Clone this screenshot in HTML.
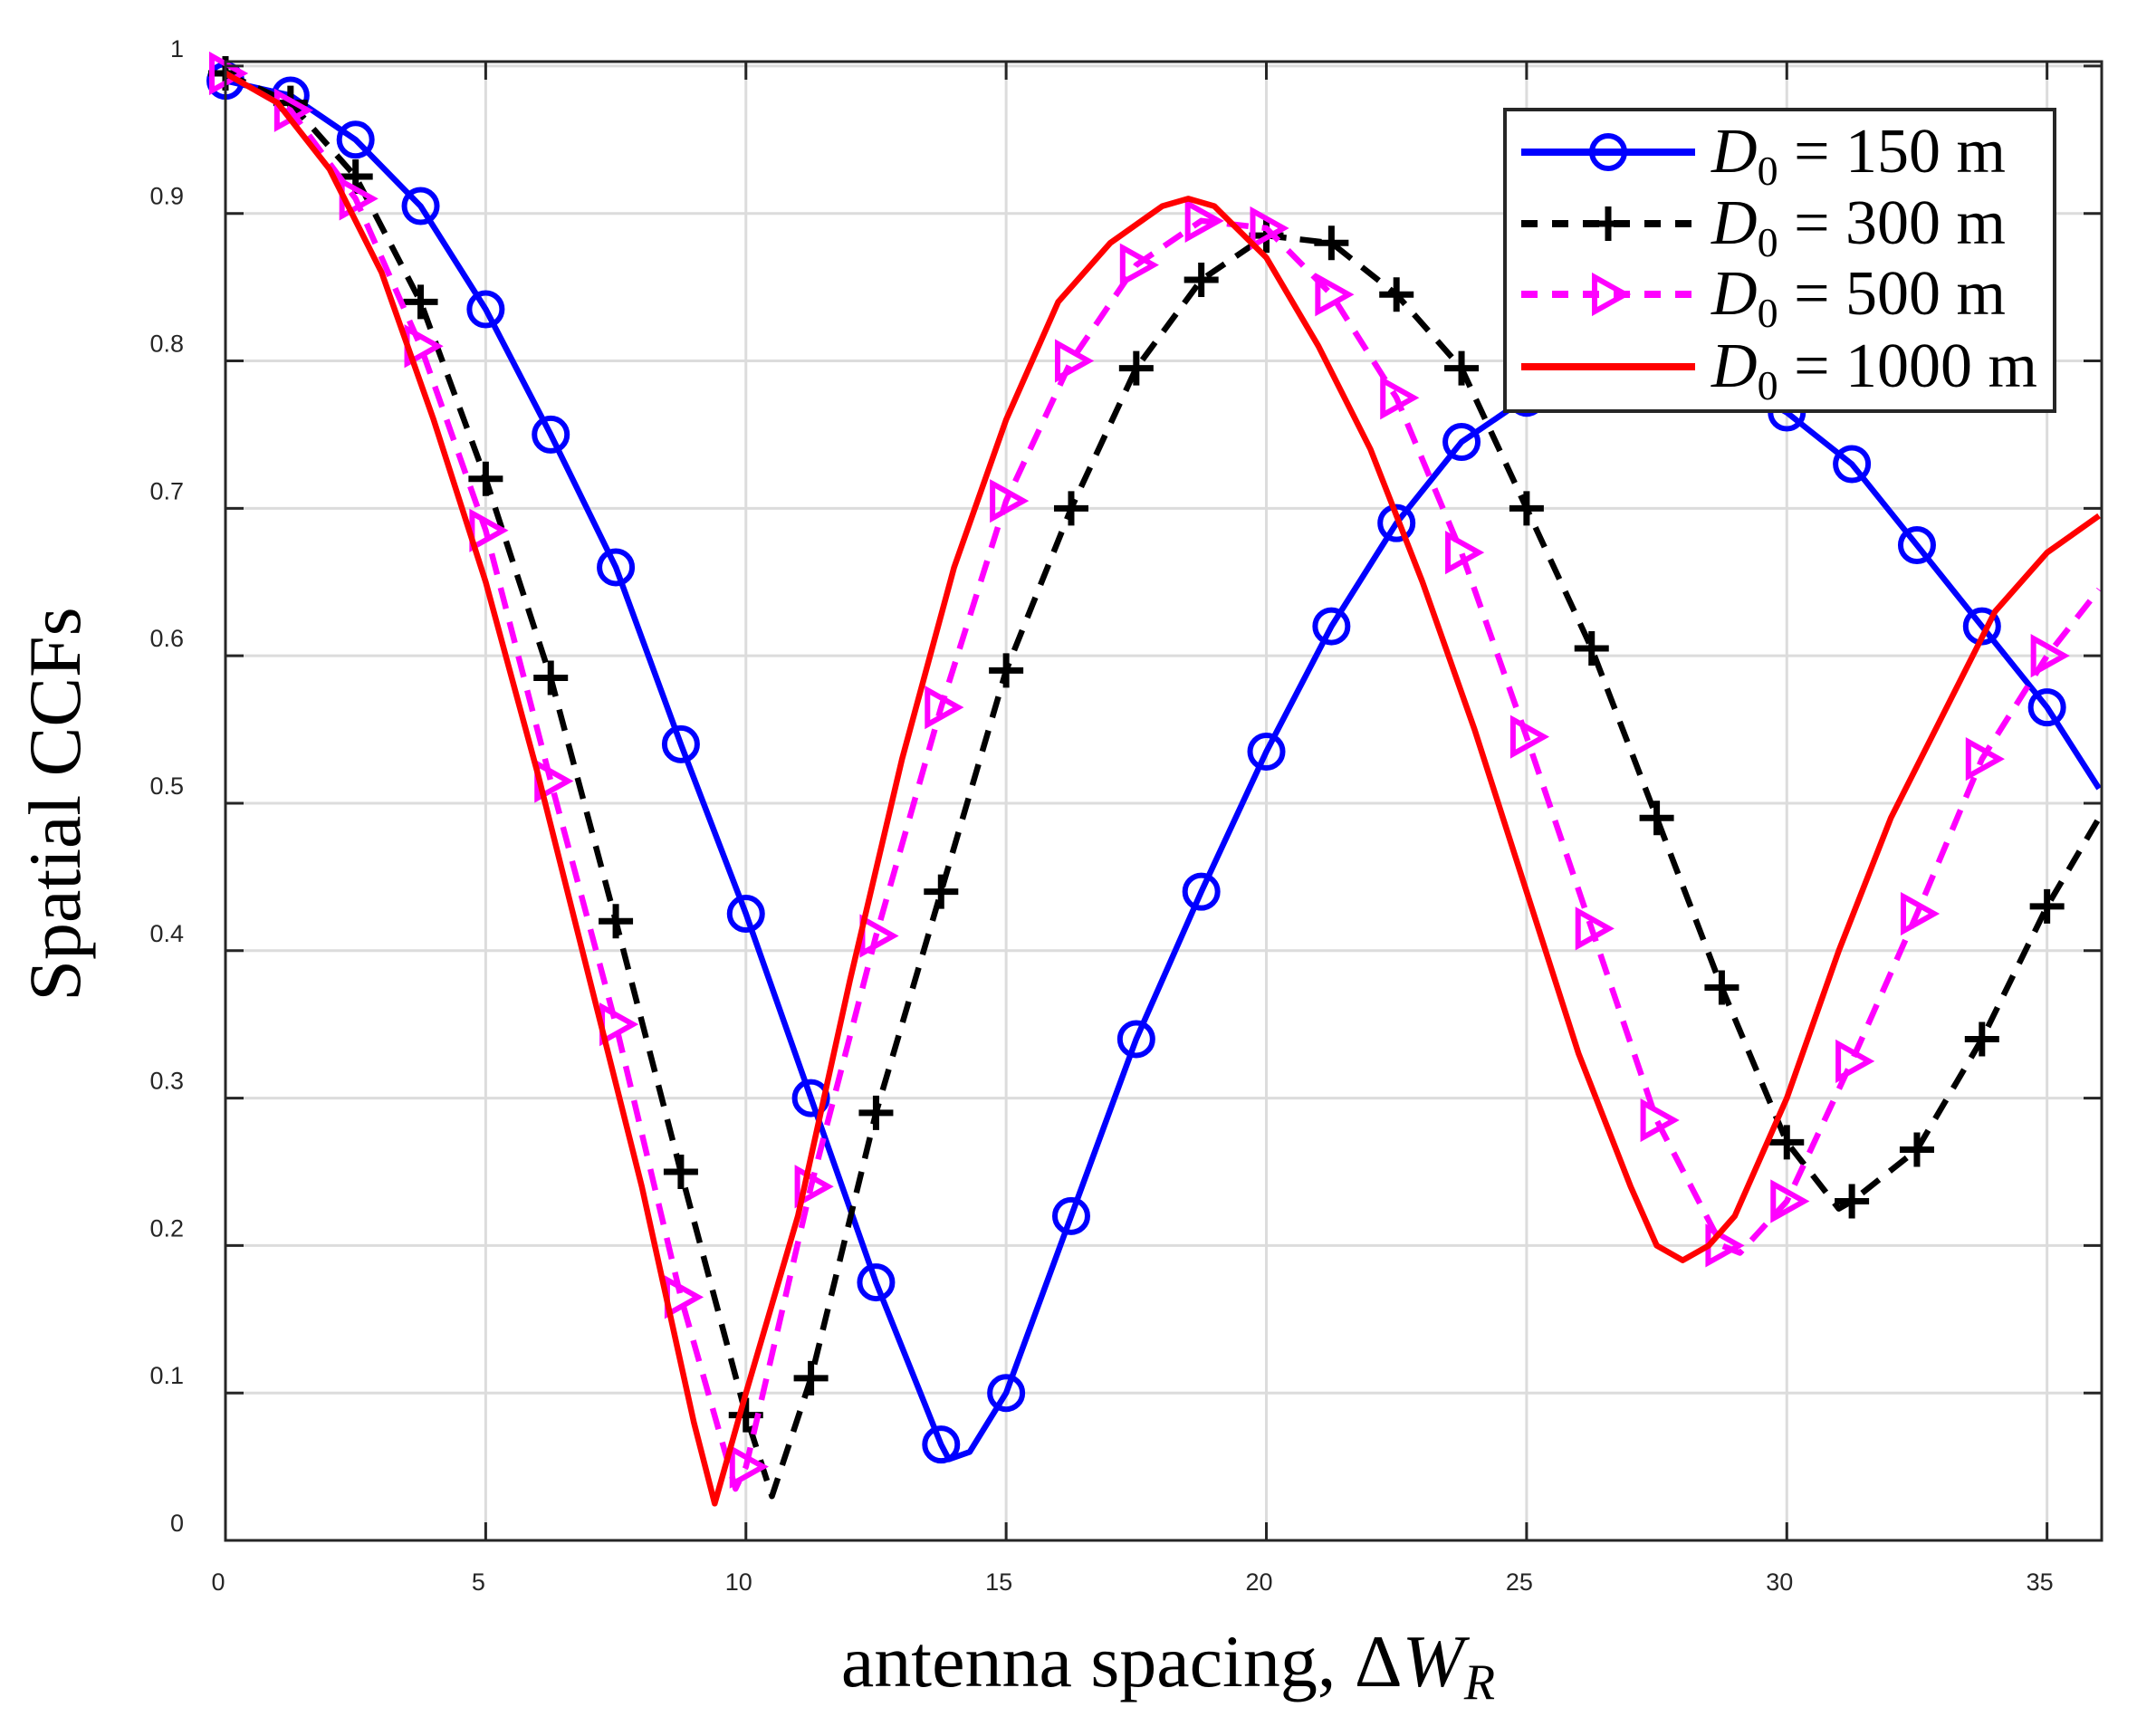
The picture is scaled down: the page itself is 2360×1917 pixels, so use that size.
<!DOCTYPE html>
<html><head><meta charset="utf-8"><style>
html,body{margin:0;padding:0;background:#fff;}
svg{display:block;}
</style></head><body>
<svg id="chart" width="2360" height="1917" xmlns="http://www.w3.org/2000/svg">
<rect width="2360" height="1917" fill="#fff"/>
<g id="grid"></g>
<g id="series"></g>
<g id="axes"></g>
<text x="1290" y="1862" font-family="Liberation Serif, serif" font-size="82" text-anchor="middle">antenna spacing, Δ<tspan font-style="italic">W</tspan><tspan font-style="italic" font-size="56" dy="14">R</tspan></text>
<text transform="translate(88,888) rotate(-90)" font-family="Liberation Serif, serif" font-size="82" text-anchor="middle">Spatial CCFs</text>
<g id="legend"></g>
</svg>
<script>
const xTicks=[0,5,10,15,20,25,30,35];
const yTicks=[0,0.1,0.2,0.3,0.4,0.5,0.6,0.7,0.8,0.9,1];
const yTickLabels=['0','0.1','0.2','0.3','0.4','0.5','0.6','0.7','0.8','0.9','1'];
const x150=[0,1.25,2.5,3.75,5,6.25,7.5,8.75,10,11.25,12.5,13.75,13.9,14.3,15,16.25,17.5,18.75,20,21.25,22.5,23.75,25,26,27,28,29,30,31.25,32.5,33.75,35,36];
const y150=[0.99,0.98,0.95,0.905,0.835,0.75,0.66,0.54,0.425,0.3,0.175,0.065,0.055,0.06,0.1,0.22,0.34,0.44,0.535,0.62,0.69,0.745,0.775,0.79,0.8,0.795,0.785,0.765,0.73,0.675,0.62,0.565,0.51];
const x300=[0,1.25,2.5,3.75,5,6.25,7.5,8.75,10,10.5,11.25,12.5,13.75,15,16.25,17.5,18.75,20,21.25,22.5,23.75,25,26.25,27.5,28.75,30,31,31.25,32.5,33.75,35,36];
const y300=[0.995,0.975,0.925,0.84,0.72,0.585,0.42,0.25,0.085,0.03,0.11,0.29,0.44,0.59,0.7,0.795,0.855,0.885,0.88,0.845,0.795,0.7,0.605,0.49,0.375,0.27,0.225,0.23,0.265,0.34,0.43,0.49];
const x500=[0,1.25,2.5,3.75,5,6.25,7.5,8.75,9.8,10,11.25,12.5,13.75,15,16.25,17.5,18.75,20,21.25,22.5,23.75,25,26.25,27.5,28.75,29.1,30,31.25,32.5,33.75,35,36];
const y500=[0.995,0.97,0.91,0.81,0.685,0.515,0.35,0.165,0.035,0.05,0.24,0.41,0.565,0.705,0.8,0.865,0.895,0.89,0.845,0.775,0.67,0.545,0.415,0.285,0.2,0.195,0.23,0.325,0.425,0.53,0.6,0.645];
const x1000=[0,1,2,3,4,5,6,7,8,9,9.4,10,11,12,13,14,15,16,17,18,18.5,19,20,21,22,23,24,25,26,27,27.5,28,28.5,29,30,31,32,33,34,35,36];
const y1000=[0.995,0.975,0.93,0.86,0.76,0.65,0.52,0.38,0.24,0.08,0.025,0.1,0.22,0.38,0.53,0.66,0.76,0.84,0.88,0.905,0.91,0.905,0.87,0.81,0.74,0.65,0.55,0.44,0.33,0.24,0.2,0.19,0.2,0.22,0.3,0.4,0.49,0.56,0.63,0.67,0.695];

const L=249,R=2321,T=68,B=1701,XMAX=36.05,YMAX=1.003;
const sx=v=>L+v/XMAX*(R-L);
const sy=v=>B-v/YMAX*(B-T);
const NS='http://www.w3.org/2000/svg';
function mk(tag,attrs,parent){const e=document.createElementNS(NS,tag);for(const k in attrs)e.setAttribute(k,attrs[k]);parent.appendChild(e);return e;}
const grid=document.getElementById('grid'),axes=document.getElementById('axes'),ser=document.getElementById('series'),leg=document.getElementById('legend');
xTicks.forEach(t=>{
 const g=mk('line',{x1:sx(t),x2:sx(t),y1:T,y2:B,stroke:'#dcdcdc','stroke-width':3},grid);
 
 
 const tk=mk('line',{x1:sx(t),x2:sx(t),y1:B,y2:B-20,stroke:'#262626','stroke-width':3},axes);
 
 
 const tk2=mk('line',{x1:sx(t),x2:sx(t),y1:T,y2:T+20,stroke:'#262626','stroke-width':3},axes);
 
 
 const lb=mk('text',{x:sx(t)-8,y:B+55,'font-family':'Liberation Sans, sans-serif','font-size':27,'text-anchor':'middle',fill:'#262626'},axes);
 lb.textContent=String(t);
 
 
});
yTicks.forEach((t,i)=>{
 const g=mk('line',{x1:L,x2:R,y1:sy(t),y2:sy(t),stroke:'#dcdcdc','stroke-width':3},grid);
 
 
 const tk=mk('line',{x1:L,x2:L+20,y1:sy(t),y2:sy(t),stroke:'#262626','stroke-width':3},axes);
 
 
 const tk2=mk('line',{x1:R,x2:R-20,y1:sy(t),y2:sy(t),stroke:'#262626','stroke-width':3},axes);
 
 
 const lb=mk('text',{x:L-46,y:sy(t)-10,'font-family':'Liberation Sans, sans-serif','font-size':27,'text-anchor':'end',fill:'#262626'},axes);
 lb.textContent=yTickLabels[i];
 
 
});
const box=mk('rect',{x:L,y:T,width:R-L,height:B-T,fill:'none',stroke:'#262626','stroke-width':3},axes);



function marker(type,cx,cy,color,parent){
 let e;
 if(type==='o'){e=mk('circle',{cx,cy,r:18,fill:'none',stroke:color,'stroke-width':6},parent);}
 else if(type==='+'){e=mk('path',{d:`M${cx-19},${cy}H${cx+19}M${cx},${cy-19}V${cy+19}`,stroke:color,'stroke-width':7,fill:'none'},parent);}
 else if(type==='>'){e=mk('path',{d:`M${cx-15},${cy-19}L${cx+19},${cy}L${cx-15},${cy+19}Z`,stroke:color,'stroke-width':6,fill:'none'},parent);}
 return e;
}
const seriesDefs=[
 {xs:x150,ys:y150,color:'#0000ff',dash:'',m:'o',name:'series-150m'},
 {xs:x300,ys:y300,color:'#000000',dash:'24 15',m:'+',name:'series-300m'},
 {xs:x500,ys:y500,color:'#ff00ff',dash:'24 15',m:'>',name:'series-500m'},
 {xs:x1000,ys:y1000,color:'#ff0000',dash:'',m:'',name:'series-1000m'}
];
seriesDefs.forEach(s=>{
 const g=mk('g',{},ser);
 
 
 const d=s.xs.map((x,i)=>(i?'L':'M')+sx(x).toFixed(1)+','+sy(s.ys[i]).toFixed(1)).join('');
 const p=mk('path',{d,fill:'none',stroke:s.color,'stroke-width':6.5,'stroke-dasharray':s.dash,'stroke-linejoin':'round'},g);
 
 
 if(s.m){s.xs.forEach((x,i)=>{
  if(Math.abs(x/1.25-Math.round(x/1.25))<1e-6){
   const mm=marker(s.m,sx(x),sy(s.ys[i]),s.color,g);
   
   
  }});}
});
const lb=mk('rect',{x:1662,y:121,width:607,height:333,fill:'#fff',stroke:'#262626','stroke-width':4},leg);


const labels=['150 m','300 m','500 m','1000 m'];
const rows=[168,247,325,405];
seriesDefs.forEach((s,i)=>{
 const y=rows[i];
 const g=mk('g',{},leg);
 
 
 const l=mk('line',{x1:1680,x2:1872,y1:y,y2:y,stroke:s.color,'stroke-width':8,'stroke-dasharray':s.dash?'18 16':''},g);
 
 
 if(s.m){const mm=marker(s.m,1776,y,s.color,g);
  
  }
 const t=mk('text',{x:1890,y:y+22,'font-family':'Liberation Serif, serif','font-size':70},g);
 t.innerHTML='<tspan font-style="italic">D</tspan><tspan font-size="46" dy="14">0</tspan><tspan dy="-14"> = '+labels[i]+'</tspan>';
 
 
});
</script>
</body></html>
